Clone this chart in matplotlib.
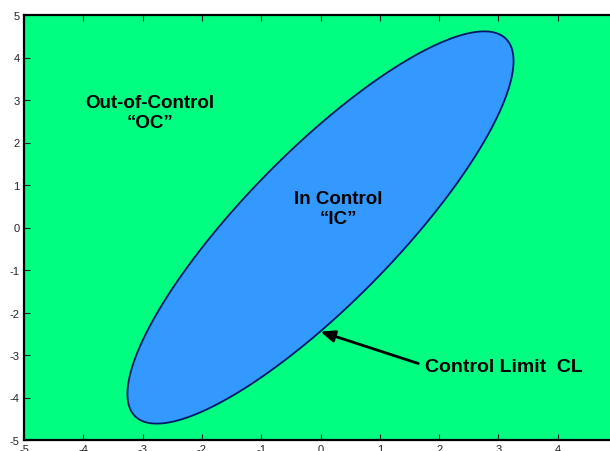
import numpy as np
import matplotlib
matplotlib.use("Agg")
import matplotlib.pyplot as plt

# Control ellipse: x' S^-1 x <= 1  (S = scaled covariance)
s11 = 10.6
s22 = 21.3
s12 = 12.75
limit = 1.0

x_ticks = [-5, -4, -3, -2, -1, 0, 1, 2, 3, 4, 5]
y_ticks = [-5, -4, -3, -2, -1, 0, 1, 2, 3, 4, 5]

labels = ["Out-of-Control\n\u201cOC\u201d", "In Control\n\u201cIC\u201d", "Control Limit  CL"]
label_x = [-2.87, 0.30, 1.76]
label_y = [2.70, 0.45, -3.28]
arrow_tip = (0.0, -2.45)
arrow_tail = (1.65, -3.2)

plt.rcParams['font.family'] = ['Liberation Sans', 'DejaVu Sans']
plt.rcParams['axes.unicode_minus'] = False

fig = plt.figure(figsize=(6.10, 4.52), dpi=100)
ax = fig.add_axes([24/610, 11/452, 593/610, 425/452])

green = '#00FF80'
blue = '#3399FF'
ax.set_facecolor(green)

g = np.linspace(-5, 5, 260)
X, Y = np.meshgrid(g, g)
S = np.array([[s11, s12], [s12, s22]])
Si = np.linalg.inv(S)
Q = Si[0, 0]*X**2 + 2*Si[0, 1]*X*Y + Si[1, 1]*Y**2
ax.contourf(X, Y, Q, levels=[0, limit], colors=[blue])
ax.contour(X, Y, Q, levels=[limit], colors=['#001a66'], linewidths=1.3)

ax.set_xlim(-5, 5)
ax.set_ylim(-5, 5)
ax.set_xticks(x_ticks)
ax.set_yticks(y_ticks)
ax.tick_params(direction='in', length=4, width=0.8, labelsize=8, colors='#222222',
               top=True, right=True, pad=3)
for sp in ax.spines.values():
    sp.set_linewidth(1.6)

ax.text(label_x[0], label_y[0], labels[0], ha='center', va='center', fontsize=13.5,
        fontweight='bold', linespacing=1.25)
ax.text(label_x[1], label_y[1], labels[1], ha='center', va='center', fontsize=13.5,
        fontweight='bold', linespacing=1.2)
ax.text(label_x[2], label_y[2], labels[2], ha='left', va='center', fontsize=14,
        fontweight='bold')
ax.annotate('', xy=arrow_tip, xytext=arrow_tail,
            arrowprops=dict(arrowstyle='-|>,head_length=0.6,head_width=0.25', color='black',
                            lw=2, mutation_scale=14, shrinkA=0, shrinkB=0))

fig.savefig('out.png', dpi=100)
